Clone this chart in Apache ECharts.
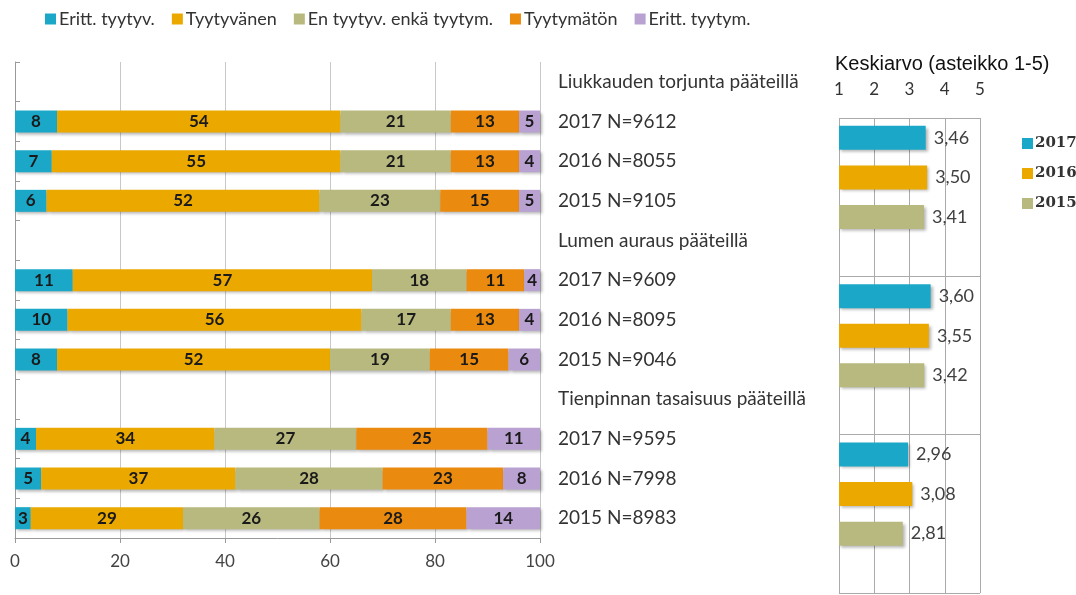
<!DOCTYPE html>
<html>
<head>
<meta charset="utf-8">
<script src="https://cdn.jsdelivr.net/npm/echarts@6/dist/echarts.min.js"></script>
<style>
  html, body { margin: 0; padding: 0; background: #fff; }
  #chart { width: 1076px; height: 595px; }
</style>
</head>
<body>
<div id="chart"></div>
<script>
// rivit (otsikkorivit ilman arvoja)
const rows = [
  'Liukkauden torjunta pääteillä', '2017 N=9612', '2016 N=8055', '2015 N=9105',
  'Lumen auraus pääteillä', '2017 N=9609', '2016 N=8095', '2015 N=9046',
  'Tienpinnan tasaisuus pääteillä', '2017 N=9595', '2016 N=7998', '2015 N=8983'
];
const headingRows = [0, 4, 8];

// jakaumat (%) järjestyksessä 2017, 2016, 2015 kullekin aiheelle
const erittTyytyv = [8, 7, 6, 11, 10, 8, 4, 5, 3];
const tyytyvainen = [54, 55, 52, 57, 56, 52, 34, 37, 29];
const enTyytyv = [21, 21, 23, 18, 17, 19, 27, 28, 26];
const tyytymaton = [13, 13, 15, 11, 13, 15, 25, 23, 28];
const erittTyytym = [5, 4, 5, 4, 4, 6, 11, 8, 14];

const stackNames = ['Eritt. tyytyv.', 'Tyytyvänen', 'En tyytyv. enkä tyytym.', 'Tyytymätön', 'Eritt. tyytym.'];
const stackColors = ['#1BA8C8', '#EBA900', '#B8B97F', '#EA8A0E', '#B9A2D2'];

// keskiarvot (asteikko 1-5)
const years = ['2017', '2016', '2015'];
const avg2017 = [3.46, 3.60, 2.96];
const avg2016 = [3.50, 3.55, 3.08];
const avg2015 = [3.41, 3.42, 2.81];

// lisätään tyhjät otsikkorivit
const withHeadings = (vals) => {
  const out = [];
  let k = 0;
  rows.forEach((r, i) => {
    out.push(headingRows.includes(i) ? '-' : vals[k++]);
  });
  return out;
};

// oikean kaavion rivit: 3 vuotta + tyhjä väli kullekin aiheelle
const avgRows = [];
for (let g = 0; g < 3; g++) {
  years.forEach(y => avgRows.push(y + '_' + g));
  avgRows.push('gap_' + g);
}
const avgSeriesData = (vals, pos) => avgRows.map((r, i) =>
  (i % 4 === pos) ? vals[Math.floor(i / 4)] : '-');

const font = 'Lato, "Open Sans", sans-serif';
const shadow = {
  shadowBlur: 3,
  shadowOffsetX: 2,
  shadowOffsetY: 2,
  shadowColor: 'rgba(0,0,0,0.3)'
};

const chart = echarts.init(document.getElementById('chart'));

const stackSeries = [erittTyytyv, tyytyvainen, enTyytyv, tyytymaton, erittTyytym].map((vals, i) => ({
  name: stackNames[i],
  type: 'bar',
  stack: 'jakauma',
  xAxisIndex: 0,
  yAxisIndex: 0,
  barWidth: 22,
  data: withHeadings(vals),
  itemStyle: Object.assign({ color: stackColors[i] }, shadow),
  label: {
    show: true,
    position: 'inside',
    color: '#1a1a1a',
    fontFamily: font,
    fontWeight: 'bold',
    fontSize: 17
  }
}));

const avgColors = [stackColors[0], stackColors[1], stackColors[2]];
const avgSeries = [avg2017, avg2016, avg2015].map((vals, i) => ({
  name: years[i],
  type: 'bar',
  xAxisIndex: 1,
  yAxisIndex: 1,
  barWidth: 24,
  barGap: '-100%',
  data: avgSeriesData(vals, i),
  itemStyle: Object.assign({ color: avgColors[i] }, shadow),
  label: {
    show: true,
    position: 'right',
    distance: 8,
    color: '#404040',
    fontFamily: font,
    fontSize: 18,
    formatter: p => p.value.toFixed(2).replace('.', ',')
  }
}));

const option = {
  animation: false,
  title: {
    text: 'Keskiarvo (asteikko 1-5)',
    left: 830,
    top: 49,
    textStyle: {
      fontFamily: '"Liberation Sans", Arial, sans-serif',
      fontSize: 20,
      fontWeight: 'normal',
      color: '#111'
    }
  },
  legend: [
    {
      data: stackNames,
      left: 40,
      top: 5,
      itemWidth: 11,
      itemHeight: 11,
      itemGap: 17,
      icon: 'rect',
      textStyle: { fontFamily: font, fontSize: 18, color: '#333', padding: [0, 0, 0, -2] }
    },
    {
      data: years,
      orient: 'vertical',
      left: 1017,
      top: 131,
      itemWidth: 11,
      itemHeight: 11,
      itemGap: 15,
      icon: 'rect',
      textStyle: { fontFamily: '"DejaVu Serif", serif', fontSize: 15, fontWeight: 'bold', color: '#333', padding: [0, 0, 0, -3] }
    }
  ],
  grid: [
    { left: 15, right: 536, top: 62, bottom: 57 },
    { left: 839, right: 96, top: 118, bottom: 2 }
  ],
  xAxis: [
    {
      gridIndex: 0,
      type: 'value',
      min: 0,
      max: 100,
      interval: 20,
      axisLine: { show: true, lineStyle: { color: '#999' } },
      axisTick: { show: true, length: 5, lineStyle: { color: '#999' } },
      axisLabel: { margin: 15, color: '#444', fontFamily: font, fontSize: 17 },
      splitLine: { lineStyle: { color: '#c8c8c8' } }
    },
    {
      gridIndex: 1,
      type: 'value',
      position: 'top',
      min: 1,
      max: 5,
      interval: 1,
      axisLine: { show: false },
      axisTick: { show: false },
      axisLabel: { margin: 20, color: '#333', fontFamily: font, fontSize: 17 },
      splitLine: { lineStyle: { color: '#aaa' } }
    }
  ],
  yAxis: [
    {
      gridIndex: 0,
      type: 'category',
      position: 'right',
      inverse: true,
      data: rows,
      axisLine: { show: true, lineStyle: { color: '#999' } },
      axisTick: { show: true, length: 5, lineStyle: { color: '#999' } },
      axisLabel: { margin: 18, color: '#333', fontFamily: font, fontSize: 19, align: 'left' }
    },
    {
      gridIndex: 1,
      type: 'category',
      inverse: true,
      data: avgRows,
      axisLine: { show: false },
      axisTick: { show: false },
      axisLabel: { show: false },
      splitLine: { show: true, interval: 3, lineStyle: { color: '#aaa' } }
    }
  ],
  series: stackSeries.concat(avgSeries)
};

chart.setOption(option);
</script>
</body>
</html>
